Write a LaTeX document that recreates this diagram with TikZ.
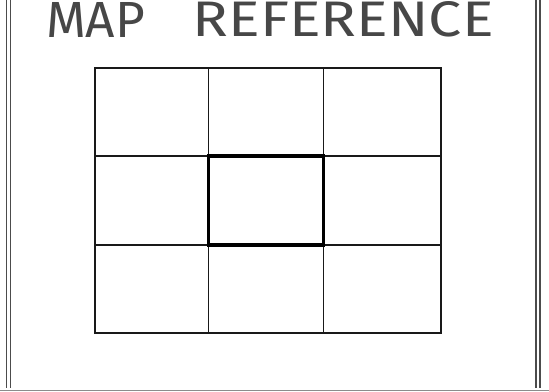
\documentclass[tikz,border=0pt]{standalone}
\usepackage{fontspec}
\usepackage{graphicx}
\newfontfamily\titlefont{Fira Sans}
\usepackage{tikz}
\usetikzlibrary{positioning}

\tikzset{
  titolo/.style={inner sep=0pt, outer sep=0pt, text=black!72},
  cornice/.style={line width=1.1pt, black!70},
  griglia/.style={line width=1.2pt, black!90},
  bordo/.style={line width=1.7pt, black!90},
  centro/.style={line width=3.6pt, black, line join=miter},
}

\begin{document}
\begin{tikzpicture}[x=1pt, y=-1pt]
    \useasboundingbox (0,0) rectangle (549,391);
    % Cornice doppia laterale
    \foreach \x in {6.4, 10.8, 536, 540}
        \draw[cornice] (\x,0) -- (\x,388);
    \draw[line width=1pt, black!45] (0,390) -- (549,390); % Linea inferiore
    % Titolo
    \node[titolo, anchor=south west] (mappa) at (46,37) {\resizebox{99pt}{35pt}{\titlefont MAP}};
    \node[titolo, right=47.6pt of mappa] (riferimento) {\resizebox{301pt}{35pt}{\titlefont REFERENCE}};
    % Griglia 3x3
    \foreach \x in {208.5, 323.5}
        \draw[griglia] (\x,68.3) -- (\x,333.3);
    \foreach \y in {156, 245}
        \draw[griglia] (94.7,\y) -- (441,\y);
    \draw[bordo] (94.7,68.3) rectangle (441,333.3); % Contorno griglia
    \draw[centro] (208.5,156) rectangle (323.5,245); % Cella centrale
\end{tikzpicture}
\end{document}
